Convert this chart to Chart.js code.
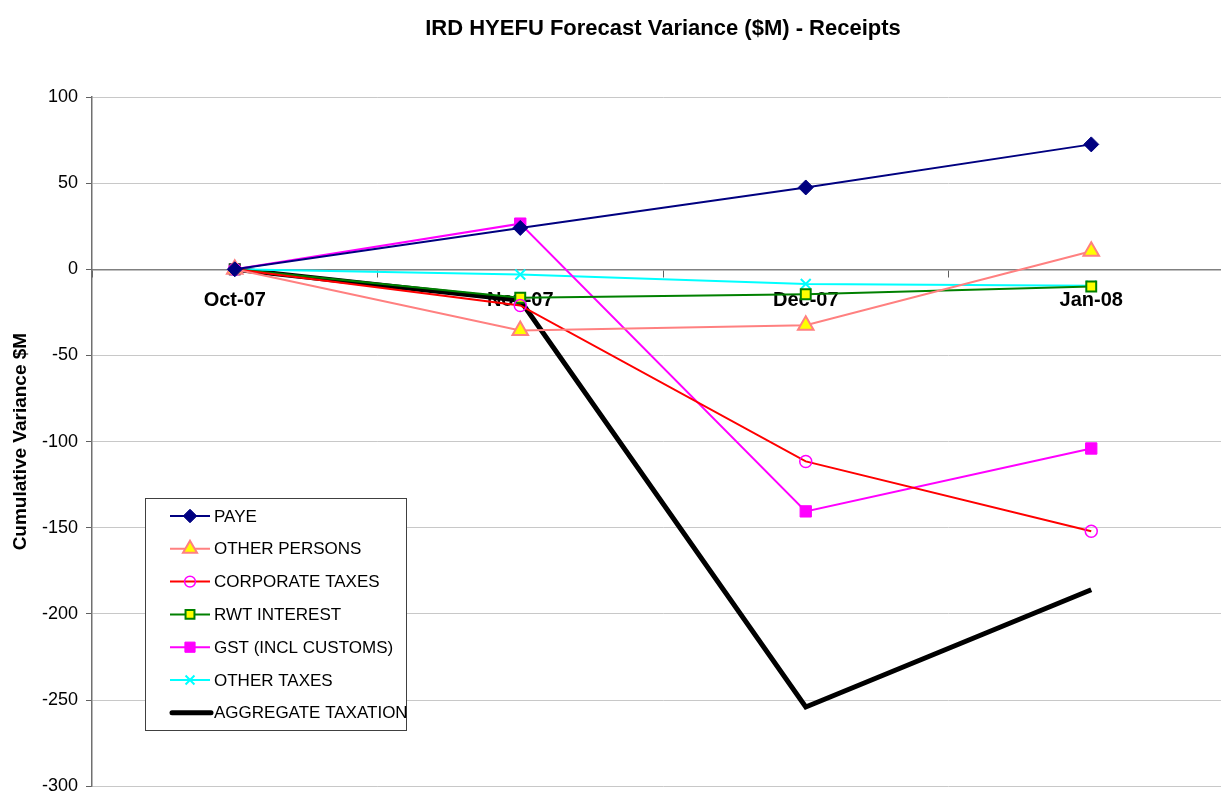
<!DOCTYPE html>
<html lang="en">
<head>
    <meta charset="UTF-8">
    <title>IRD HYEFU Forecast Variance</title>
    <script src="https://cdn.jsdelivr.net/npm/chart.js"></script>
    <style>
        html, body {
            margin: 0;
            padding: 0;
            background: #FFFFFF;
            overflow: hidden;
        }
        #chartCanvas {
            display: block;
        }
    </style>
</head>
<body>
    <canvas id="chartCanvas" width="1245" height="805"></canvas>

    <script>
        // Chart data
        const months = ['Oct-07', 'Nov-07', 'Dec-07', 'Jan-08'];
        const paye = [0, 24, 47.5, 72.5];
        const otherPersons = [0, -35.5, -32.5, 10.5];
        const corporateTaxes = [0, -21, -111.5, -152];
        const rwtInterest = [0, -16.5, -14.5, -10];
        const gst = [0, 26.5, -140.5, -104];
        const otherTaxes = [0, -3, -8.5, -9.5];
        const aggregate = [0, -18, -254, -186];
        const yTicks = [100, 50, 0, -50, -100, -150, -200, -250, -300];

        const FONT = 'Arial, "Liberation Sans", sans-serif';

        function series(label, data, color, style) {
            return Object.assign({
                label: label,
                data: data,
                borderColor: color,
                borderWidth: 2,
                pointBackgroundColor: color,
                pointBorderColor: color,
                pointBorderWidth: 1,
                pointRadius: 6,
                pointHoverRadius: 6,
                tension: 0,
                fill: false
            }, style);
        }

        const datasets = [
            series('PAYE', paye, '#000080', { pointStyle: 'rectRot', pointRadius: 7.5 }),
            series('OTHER PERSONS', otherPersons, '#FF8080', {
                pointStyle: 'triangle', pointRadius: 9, pointBackgroundColor: '#FFFF00', pointBorderWidth: 2
            }),
            series('CORPORATE TAXES', corporateTaxes, '#FF0000', {
                pointStyle: 'circle', pointRadius: 6, pointBackgroundColor: 'rgba(255,255,255,0)',
                pointBorderColor: '#FF00FF', pointBorderWidth: 1.5
            }),
            series('RWT INTEREST', rwtInterest, '#008000', {
                pointStyle: 'rect', pointRadius: 7, pointBackgroundColor: '#FFFF00', pointBorderWidth: 2
            }),
            series('GST (INCL CUSTOMS)', gst, '#FF00FF', { pointStyle: 'rect', pointRadius: 8 }),
            series('OTHER TAXES', otherTaxes, '#00FFFF', { pointStyle: 'crossRot', pointRadius: 7, pointBorderWidth: 2 }),
            series('AGGREGATE TAXATION', aggregate, '#000000', { borderWidth: 5, pointRadius: 0, pointHoverRadius: 0 })
        ];

        // legend drawn as a framed box inside the plot, like the original
        const boxLegend = {
            id: 'boxLegend',
            afterDraw(chart) {
                const ctx = chart.ctx;
                ctx.save();
                ctx.fillStyle = '#FFFFFF';
                ctx.fillRect(145.5, 498.5, 261, 232);
                ctx.strokeStyle = '#404040';
                ctx.lineWidth = 1;
                ctx.strokeRect(145.5, 498.5, 261, 232);

                chart.data.datasets.forEach((ds, i) => {
                    const y = 516 + i * 32.8;
                    const thick = ds.borderWidth > 3;
                    ctx.strokeStyle = ds.borderColor;
                    ctx.lineWidth = ds.borderWidth;
                    ctx.lineCap = thick ? 'round' : 'butt';
                    ctx.beginPath();
                    ctx.moveTo(thick ? 172 : 170, y);
                    ctx.lineTo(thick ? 211 : 210, y);
                    ctx.stroke();

                    if (ds.pointRadius > 0 && Chart.helpers && Chart.helpers.drawPoint) {
                        ctx.fillStyle = ds.pointBackgroundColor;
                        ctx.strokeStyle = ds.pointBorderColor;
                        ctx.lineWidth = ds.pointBorderWidth;
                        Chart.helpers.drawPoint(ctx, {
                            pointStyle: ds.pointStyle,
                            radius: ds.pointRadius * 0.9,
                            rotation: 0,
                            borderWidth: ds.pointBorderWidth
                        }, 190, y);
                    }

                    ctx.fillStyle = '#000000';
                    ctx.font = '17px ' + FONT;
                    ctx.textAlign = 'left';
                    ctx.textBaseline = 'middle';
                    ctx.fillText(ds.label, 214, y + 1);
                });
                ctx.restore();
            }
        };

        const ctx = document.getElementById('chartCanvas').getContext('2d');
        const chart = new Chart(ctx, {
            type: 'line',
            data: {
                labels: months,
                datasets: datasets
            },
            plugins: [boxLegend],
            options: {
                responsive: false,
                animation: false,
                layout: {
                    padding: { left: 0, right: 6, top: 0, bottom: 14 }
                },
                plugins: {
                    legend: { display: false },
                    tooltip: { enabled: false },
                    title: {
                        display: true,
                        fullSize: false,
                        text: 'IRD HYEFU Forecast Variance ($M) - Receipts',
                        color: '#000000',
                        font: { family: FONT, size: 22, weight: 'bold' },
                        padding: { top: 16, bottom: 54.6 }
                    }
                },
                scales: {
                    x: {
                        type: 'category',
                        offset: true,
                        position: { y: 0 },
                        grid: {
                            offset: true,
                            drawOnChartArea: false,
                            drawTicks: true,
                            tickLength: 7,
                            tickColor: '#606060'
                        },
                        border: { color: '#808080', width: 1.5 },
                        ticks: {
                            color: '#000000',
                            font: { family: FONT, size: 20, weight: 'bold' },
                            padding: 12,
                            maxRotation: 0
                        },
                        afterFit(scale) {
                            scale.height = 0;
                        }
                    },
                    y: {
                        min: -300,
                        max: 100,
                        afterBuildTicks(scale) {
                            scale.ticks = yTicks.slice().reverse().map(v => ({ value: v }));
                        },
                        ticks: {
                            color: '#000000',
                            font: { family: FONT, size: 18 },
                            padding: 8
                        },
                        grid: {
                            color: c => (c.tick && c.tick.value === 0) ? '#808080' : '#C8C8C8',
                            lineWidth: 1,
                            tickLength: 6,
                            tickColor: '#606060'
                        },
                        border: { color: '#707070', width: 1.5 },
                        title: {
                            display: true,
                            text: 'Cumulative Variance $M',
                            color: '#000000',
                            font: { family: FONT, size: 19, weight: 'bold' },
                            padding: { top: 9, bottom: 0 }
                        },
                        afterFit(scale) {
                            scale.width = 92;
                        }
                    }
                }
            }
        });
    </script>
</body>
</html>
